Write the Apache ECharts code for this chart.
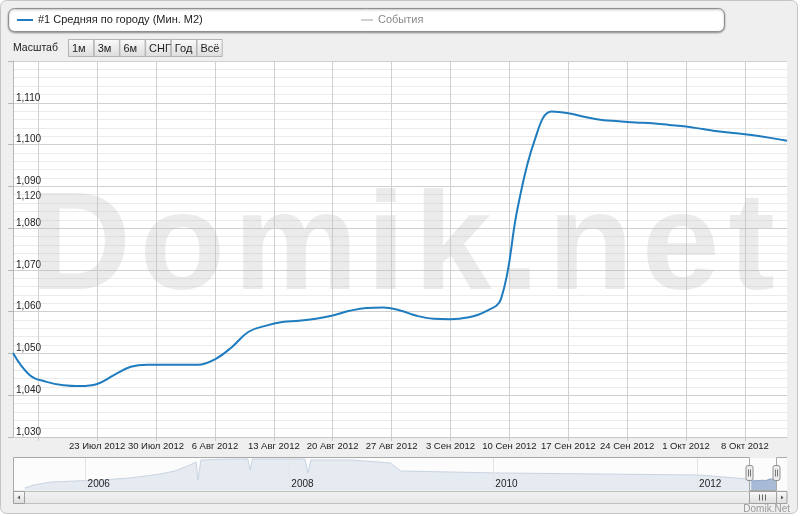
<!DOCTYPE html>
<html><head><meta charset="utf-8">
<script src="https://cdn.jsdelivr.net/npm/echarts@6/dist/echarts.min.js"></script>
<style>html,body{margin:0;padding:0;background:#fff}#c{width:800px;height:516px}</style>
</head><body><div id="c"></div>
<script>
// ---- data ----
const seriesName = '#1 Средняя по городу (Мин. М2)';
const eventsName = 'События';
const dates = ['2012-07-13','2012-07-15','2012-07-17','2012-07-19','2012-07-21','2012-07-23','2012-07-25','2012-07-27',
  '2012-07-29','2012-07-31','2012-08-02','2012-08-04','2012-08-06','2012-08-08','2012-08-10','2012-08-12',
  '2012-08-14','2012-08-16','2012-08-18','2012-08-20','2012-08-22','2012-08-24','2012-08-26','2012-08-28',
  '2012-08-30','2012-09-01','2012-09-03','2012-09-05','2012-09-07','2012-09-09','2012-09-11','2012-09-13',
  '2012-09-15','2012-09-17','2012-09-19','2012-09-21','2012-09-23','2012-09-25','2012-09-27','2012-09-29',
  '2012-10-01','2012-10-03','2012-10-05','2012-10-07','2012-10-09','2012-10-11','2012-10-13'];
const values = [1050.1,1044.8,1043.2,1042.4,1042.2,1042.7,1044.8,1046.8,
  1047.3,1047.3,1047.3,1047.3,1048.6,1051.5,1055.2,1056.6,
  1057.5,1057.8,1058.3,1059.1,1060.2,1060.9,1061.0,1060.3,
  1059.0,1058.3,1058.2,1058.6,1059.9,1063.0,1085.0,1101.0,
  1107.9,1107.5,1106.6,1105.9,1105.6,1105.3,1105.1,1104.7,
  1104.3,1103.7,1103.1,1102.7,1102.2,1101.6,1100.9];
const tickDates = ['2012-07-16','2012-07-23','2012-07-30','2012-08-06','2012-08-13','2012-08-20','2012-08-27',
  '2012-09-03','2012-09-10','2012-09-17','2012-09-24','2012-10-01','2012-10-08'];
const labelDates = tickDates.slice(1);
const monthNames = ['Янв','Фев','Мар','Апр','Май','Июн','Июл','Авг','Сен','Окт','Ноя','Дек'];
const strayTickLabel = '1,120';
const rangeLabel = 'Масштаб';
const rangeButtons = ['1м','3м','6м','СНГ','Год','Всё'];
const navDates = ['2005-05-28','2005-07-01','2005-08-30','2005-11-25','2006-02-25','2006-06-10','2006-09-25',
  '2006-11-17','2007-01-10','2007-02-01','2007-02-08','2007-02-18','2007-06-01','2007-08-05','2007-08-14',
  '2007-08-22','2008-02-26','2008-03-08','2008-03-18','2008-08-10','2008-12-28','2009-02-03','2009-07-30',
  '2010-01-27','2011-01-20','2012-01-10','2012-06-28'];
const navValues = [775,888,1000,1038,1075,1150,1300,
  1412,1637,1750,1075,1825,1862,1862,1450,
  1862,1862,1337,1825,1825,1712,1412,1375,
  1337,1300,1262,1112];
const navYears = ['2006','2008','2010','2012'];
const credit = 'Domik.Net';
const watermark = 'Domik.net';

// ---- helpers ----
const ts = s => Date.parse(s + 'T00:00:00Z');
const FONT = '"Liberation Sans", Arial, sans-serif';
const fmtDate = v => { const d = new Date(v); return d.getUTCDate() + ' ' + monthNames[d.getUTCMonth()] + ' ' + d.getUTCFullYear(); };
const fmtNum = v => Math.round(v).toLocaleString('en-US');

const mainData = dates.map((d, i) => [ts(d), values[i]]);
const xMin = ts('2012-07-13'), xMax = ts('2012-10-13');
const navAll = navDates.map((d, i) => [ts(d), navValues[i]]).concat(mainData);
const navSel = navAll.filter(p => p[0] >= xMin && p[0] <= xMax);

function txt(x, y, text, size, color, align, extra) {
  return Object.assign({type: 'text', x: x, y: y, z: 10, silent: true,
    style: {text: text, fill: color, font: size + 'px ' + FONT, align: align || 'left', verticalAlign: 'middle',
      textAlign: align || 'left', textVerticalAlign: 'middle'}}, extra || {});
}
const btnGrad = {type: 'linear', x: 0, y: 0, x2: 0, y2: 1, colorStops: [{offset: 0, color: '#fbfbfb'}, {offset: 1, color: '#dcdcdc'}]};
const graphics = [];
// panel
graphics.push({type: 'rect', z: -100, silent: true, shape: {x: 0.5, y: 0.5, width: 797, height: 513, r: 6},
  style: {fill: '#efefef', stroke: '#c4c4c4', lineWidth: 1}});
// legend box
graphics.push({type: 'rect', z: -50, silent: true, shape: {x: 8.5, y: 8.5, width: 716, height: 23, r: 6},
  style: {fill: '#fff', stroke: '#8f8f8f', lineWidth: 1, shadowBlur: 2, shadowOffsetY: 1, shadowColor: 'rgba(0,0,0,0.35)'}});
// range selector
graphics.push(txt(13, 48.5, rangeLabel, 10.5, '#222'));
rangeButtons.forEach((b, i) => {
  const x = 68 + i * 25.7;
  graphics.push({type: 'rect', z: 5, silent: true, shape: {x: x + 0.5, y: 39.5, width: 25.2, height: 17},
    style: {fill: btnGrad, stroke: '#b4b4b4', lineWidth: 1}});
  graphics.push(txt(x + 4, 48.5, b, 11, '#222'));
});
// stray label
graphics.push(txt(16, 196, strayTickLabel, 10, '#333'));
// watermark, letter by letter with wide spacing
(function () {
  const wmFont = 'bold 140px ' + FONT;
  const ctx = document.createElement('canvas').getContext('2d');
  ctx.font = wmFont;
  let x = 30;
  for (const ch of watermark) {
    graphics.push({type: 'text', x: x, y: 320, z: 1, silent: true,
      style: {text: ch, fill: 'rgba(190,190,190,0.3)', font: wmFont,
        align: 'left', verticalAlign: 'bottom', textAlign: 'left', textVerticalAlign: 'bottom'}});
    x += ctx.measureText(ch).width + 8.5;
  }
})();
// navigator outline
graphics.push({type: 'polyline', z: 20, silent: true, shape: {points: [[13.5, 491], [13.5, 457.5], [749.5, 457.5], [749.5, 490.5], [776.5, 490.5], [776.5, 457.5], [787, 457.5]]},
  style: {stroke: '#a8a8a8', lineWidth: 1, fill: null}});
// scrollbar
graphics.push({type: 'rect', z: 20, silent: true, shape: {x: 13.5, y: 491.5, width: 773, height: 12},
  style: {fill: {type: 'linear', x: 0, y: 0, x2: 0, y2: 1, colorStops: [{offset: 0, color: '#f2f2f2'}, {offset: 1, color: '#e6e6e6'}]}, stroke: '#c0c0c0', lineWidth: 1}});
graphics.push({type: 'rect', z: 21, silent: true, shape: {x: 13.5, y: 491.5, width: 11, height: 12},
  style: {fill: btnGrad, stroke: '#a0a0a0', lineWidth: 1}});
graphics.push({type: 'polygon', z: 22, silent: true, shape: {points: [[17.5, 497.5], [20, 495.5], [20, 499.5]]}, style: {fill: '#555'}});
graphics.push({type: 'rect', z: 21, silent: true, shape: {x: 749.5, y: 491.5, width: 27, height: 12},
  style: {fill: btnGrad, stroke: '#a0a0a0', lineWidth: 1}});
[759.5, 762.5, 765.5].forEach(x => graphics.push({type: 'line', z: 22, silent: true, shape: {x1: x, y1: 494.5, x2: x, y2: 500.5}, style: {stroke: '#666', lineWidth: 1}}));
graphics.push({type: 'rect', z: 21, silent: true, shape: {x: 776.5, y: 491.5, width: 10.5, height: 12},
  style: {fill: btnGrad, stroke: '#a0a0a0', lineWidth: 1}});
graphics.push({type: 'polygon', z: 22, silent: true, shape: {points: [[783.5, 497.5], [781, 495.5], [781, 499.5]]}, style: {fill: '#555'}});
// handles
[749.5, 776.5].forEach(cx => {
  graphics.push({type: 'rect', z: 23, silent: true, shape: {x: cx - 3.5, y: 465.5, width: 7, height: 15, r: 2},
    style: {fill: '#ececec', stroke: '#909090', lineWidth: 1}});
  [cx - 1, cx + 1].forEach(x => graphics.push({type: 'line', z: 24, silent: true, shape: {x1: x, y1: 469.5, x2: x, y2: 476.5}, style: {stroke: '#777', lineWidth: 1}}));
});
// credit
graphics.push(txt(790, 509, credit, 10, '#999', 'right'));

const option = {
  backgroundColor: '#fff',
  animation: false,
  textStyle: {fontFamily: FONT},
  legend: [
    {left: 17, top: 13, padding: 0, data: [seriesName], icon: 'rect', itemWidth: 16, itemHeight: 2, itemGap: 0,
     textStyle: {fontSize: 11, color: '#222', fontFamily: FONT, lineHeight: 14}, selectedMode: false},
    {left: 361, top: 13, padding: 0, data: [eventsName], icon: 'rect', itemWidth: 12, itemHeight: 1, itemGap: 0,
     textStyle: {fontSize: 11, color: '#8a8a8a', fontFamily: FONT, lineHeight: 14}, selectedMode: false}
  ],
  grid: [
    {left: 13, right: 13, top: 61, height: 376, show: true, backgroundColor: '#fff', borderWidth: 0, containLabel: false},
    {left: 13, right: 13, top: 458, height: 32, show: true, backgroundColor: '#fcfcfc', borderWidth: 0, containLabel: false}
  ],
  xAxis: [
    {type: 'value', gridIndex: 0, min: xMin, max: xMax,
     axisLine: {show: true, lineStyle: {color: '#c8c8c8'}},
     axisTick: {show: true, length: 4, customValues: tickDates.map(ts), lineStyle: {color: '#c8c8c8'}},
     axisLabel: {show: true, interval: 0, hideOverlap: false, showMinLabel: true, showMaxLabel: true,
       customValues: labelDates.map(ts), formatter: fmtDate, fontSize: 9.5, color: '#222', margin: 4, fontFamily: FONT},
     splitLine: {show: true, lineStyle: {color: '#d0d0d0', width: 1}}},
    {type: 'value', gridIndex: 1, min: ts('2005-04-16'), max: ts('2012-11-18'), z: 10,
     axisLine: {show: false}, axisTick: {show: false, customValues: navYears.map(y => ts(y + '-01-01'))},
     axisLabel: {show: true, inside: true, interval: 0, customValues: navYears.map(y => ts(y + '-01-01')), formatter: v => String(new Date(v).getUTCFullYear()),
       fontSize: 10, color: '#222', margin: 1, align: 'left', padding: [0, 0, 0, 2], fontFamily: FONT},
     splitLine: {show: true, lineStyle: {color: '#e4e4e4', width: 1}}}
  ],
  yAxis: [
    {type: 'value', gridIndex: 0, min: 1030, max: 1120, interval: 10, position: 'left',
     axisLine: {show: true, lineStyle: {color: '#b8b8b8'}},
     axisTick: {show: true, inside: false, length: 5, lineStyle: {color: '#b8b8b8'}},
     axisLabel: {show: true, inside: true, margin: 3, verticalAlign: 'bottom', fontSize: 10, color: '#222', fontFamily: FONT,
       formatter: v => v >= 1120 ? '' : fmtNum(v)},
     splitLine: {show: true, lineStyle: {color: '#d0d0d0', width: 1}},
     minorTick: {show: false, splitNumber: 5},
     minorSplitLine: {show: true, lineStyle: {color: '#ebebeb', width: 1}}},
    {type: 'value', gridIndex: 1, min: 700, max: 1900, show: false, splitLine: {show: false}}
  ],
  series: [
    {name: seriesName, type: 'line', xAxisIndex: 0, yAxisIndex: 0, data: mainData, smooth: 0.4,
     showSymbol: false, color: '#1f7cbf', lineStyle: {color: '#1f7cbf', width: 2}, z: 3},
    {name: eventsName, type: 'line', data: [], color: '#a0a0a0'},
    {name: 'nav', type: 'line', xAxisIndex: 1, yAxisIndex: 1, data: navAll, showSymbol: false, silent: true,
     lineStyle: {color: '#c9d3e1', width: 1}, areaStyle: {color: '#e6ebf2', opacity: 1}, z: 2},
    {name: 'navSel', type: 'line', xAxisIndex: 1, yAxisIndex: 1, data: navSel, showSymbol: false, silent: true,
     lineStyle: {color: '#8ea6c6', width: 1}, areaStyle: {color: '#a7bbd6', opacity: 1}, z: 3}
  ],
  graphic: graphics
};
const chart = echarts.init(document.getElementById('c'), null, {renderer: 'canvas'});
chart.setOption(option);
</script></body></html>
